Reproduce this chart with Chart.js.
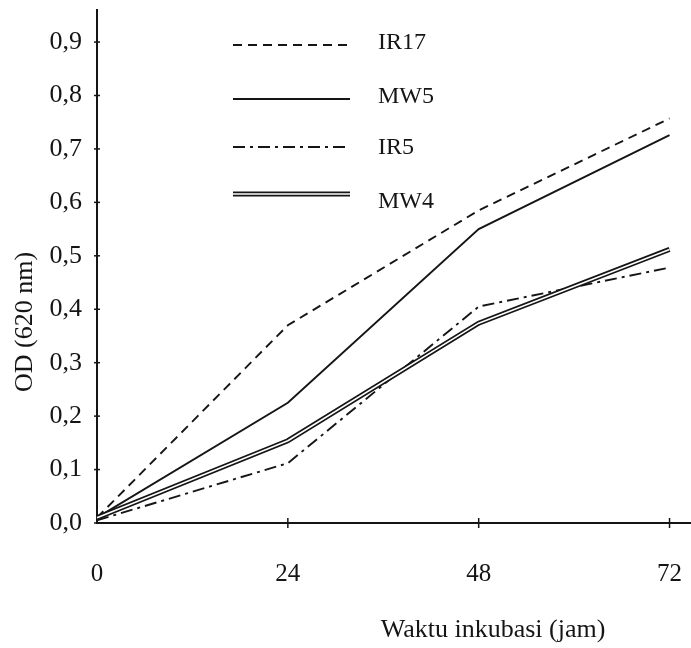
<!DOCTYPE html>
<html>
<head>
<meta charset="utf-8">
<script src="https://cdn.jsdelivr.net/npm/chart.js@4.4.1/dist/chart.umd.min.js"></script>
<style>
  html, body { margin: 0; padding: 0; background: #fff; }
  #wrap { width: 691px; height: 648px; }
</style>
</head>
<body>
<div id="wrap"><canvas id="c" width="691" height="648"></canvas></div>
<script>
// Waktu inkubasi (jam) and OD readings
const hours = [0, 24, 48, 72];
const ir17 = [0.01, 0.37, 0.585, 0.757];
const mw5 = [0.01, 0.225, 0.55, 0.726];
const ir5 = [0.005, 0.112, 0.405, 0.478];
const mw4 = [0.01, 0.154, 0.374, 0.512];
const seriesNames = ['IR17', 'MW5', 'IR5', 'MW4'];
const yTicks = [0, 0.1, 0.2, 0.3, 0.4, 0.5, 0.6, 0.7, 0.8, 0.9];
const xTicks = [0, 24, 48, 72];
const xTitle = 'Waktu inkubasi (jam)';
const yTitle = 'OD (620 nm)';

const ink = '#151515';
const serif = "'Liberation Serif', 'DejaVu Serif', serif";

function pts(ys) {
    return hours.map((h, i) => ({ x: h, y: ys[i] }));
}

const dashStyles = [[9, 6], [], [12, 5, 3, 5], []];

// double line for MW4, crossing tick marks, axis titles and the legend
const extras = {
    id: 'extras',
    afterDatasetsDraw(chart) {
        const ctx = chart.ctx;
        const meta = chart.getDatasetMeta(3);
        ctx.save();
        ctx.strokeStyle = '#fff';
        ctx.lineWidth = 1.6;
        ctx.lineJoin = 'round';
        ctx.beginPath();
        meta.data.forEach((p, i) => i ? ctx.lineTo(p.x, p.y) : ctx.moveTo(p.x, p.y));
        ctx.stroke();
        ctx.restore();
    },
    afterDraw(chart) {
        const ctx = chart.ctx;
        const xs = chart.scales.x, ys = chart.scales.y;
        const area = chart.chartArea;
        ctx.save();
        ctx.strokeStyle = ink;
        ctx.lineWidth = 1.5;
        yTicks.forEach(v => {
            const y = ys.getPixelForValue(v);
            ctx.beginPath();
            ctx.moveTo(area.left - 3, y);
            ctx.lineTo(area.left + 3, y);
            ctx.stroke();
        });
        xTicks.slice(1).forEach(v => {
            const x = xs.getPixelForValue(v);
            ctx.beginPath();
            ctx.moveTo(x, area.bottom - 5);
            ctx.lineTo(x, area.bottom + 5);
            ctx.stroke();
        });

        // axis titles
        ctx.fillStyle = ink;
        ctx.font = '26px ' + serif;
        ctx.textAlign = 'center';
        ctx.textBaseline = 'middle';
        ctx.fillText(xTitle, 493, 630);
        ctx.save();
        ctx.translate(25, 322);
        ctx.rotate(-Math.PI / 2);
        ctx.fillText(yTitle, 0, 0);
        ctx.restore();

        // legend
        const rows = [45, 99, 147, 194];
        const textRows = [43, 97, 148, 202];
        chart.data.datasets.forEach((ds, i) => {
            const y = rows[i];
            ctx.save();
            ctx.strokeStyle = ink;
            ctx.setLineDash(dashStyles[i]);
            ctx.lineWidth = ds.borderWidth;
            ctx.beginPath();
            ctx.moveTo(233, y);
            ctx.lineTo(350, y);
            ctx.stroke();
            if (i === 3) {
                ctx.strokeStyle = '#fff';
                ctx.lineWidth = 1.6;
                ctx.beginPath();
                ctx.moveTo(233, y);
                ctx.lineTo(350, y);
                ctx.stroke();
            }
            ctx.restore();
            ctx.fillStyle = ink;
            ctx.font = '24px ' + serif;
            ctx.textBaseline = 'middle';
            ctx.textAlign = 'left';
            ctx.fillText(ds.label, 378, textRows[i]);
        });
        ctx.restore();
    }
};

const lineData = [ir17, mw5, ir5, mw4];

new Chart(document.getElementById('c'), {
    type: 'line',
    data: {
        datasets: lineData.map((vals, i) => ({
            label: seriesNames[i],
            data: pts(vals),
            borderColor: ink,
            borderWidth: i === 3 ? 5 : 1.9,
            borderDash: dashStyles[i],
            pointRadius: 0,
            tension: 0,
            fill: false
        }))
    },
    options: {
        responsive: false,
        animation: false,
        events: [],
        layout: { padding: { top: 10, right: 0, left: 0, bottom: 0 } },
        plugins: { legend: { display: false }, tooltip: { enabled: false } },
        scales: {
            x: {
                type: 'linear',
                min: 0,
                max: 74.7,
                afterBuildTicks: s => { s.ticks = xTicks.map(v => ({ value: v })); },
                afterFit: s => { s.height = 125; s.paddingLeft = 0; s.paddingRight = 0; },
                grid: { display: true, drawOnChartArea: false, drawTicks: false },
                border: { color: ink, width: 2 },
                ticks: {
                    color: ink,
                    padding: 36,
                    font: { family: serif, size: 25 },
                    maxRotation: 0,
                    callback: v => String(v)
                }
            },
            y: {
                min: 0,
                max: 0.96,
                afterBuildTicks: s => { s.ticks = yTicks.map(v => ({ value: v })); },
                afterFit: s => { s.width = 97; s.paddingTop = 0; s.paddingBottom = 0; },
                grid: { display: true, drawOnChartArea: false, drawTicks: false },
                border: { color: ink, width: 2 },
                ticks: {
                    color: ink,
                    padding: 15,
                    font: { family: serif, size: 26 },
                    callback: v => v.toFixed(1).replace('.', ',')
                }
            }
        }
    },
    plugins: [extras]
});
</script>
</body>
</html>
